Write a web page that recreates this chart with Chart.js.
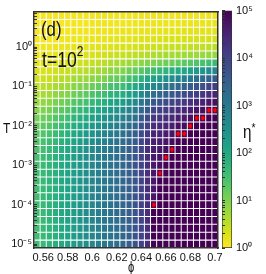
<!DOCTYPE html>
<html>
<head>
<meta charset="utf-8">
<script src="https://cdn.jsdelivr.net/npm/chart.js@4"></script>
<style>
	body { margin: 0; background: #fff; }
	#wrap { position: relative; width: 266px; height: 274px; overflow: hidden; }
	canvas { position: absolute; top: 0; }
	.lbl { position: absolute; line-height: 1; color: #111; white-space: nowrap;
		font-family: "Liberation Sans", Arial, sans-serif; transform-origin: 0 0; transform: scaleX(0.8); }
</style>
</head>
<body>
<div id="wrap">
	<canvas id="heat" width="266" height="274" style="left:0"></canvas>
	<canvas id="bar" width="48" height="274" style="left:218px"></canvas>
	<span class="lbl" style="left:41px;top:18px;font-size:21px">(d)</span>
	<span class="lbl" style="left:42px;top:49px;font-size:22px">t=10<span style="font-size:15px;position:relative;top:-11px">2</span></span>
	<span class="lbl" style="left:3px;top:120px;font-size:15px">T</span>
	<span class="lbl" style="left:128px;top:260px;font-size:14px">ϕ</span>
	<span class="lbl" style="left:243px;top:122px;font-size:19px">η<span style="font-size:13px;position:relative;top:-6px">*</span></span>
</div>
<script>
// packing fraction (columns) and log10 T (rows, top to bottom)
const phi = [0.555, 0.56, 0.565, 0.57, 0.575, 0.58, 0.585, 0.59, 0.595, 0.6,
	0.605, 0.61, 0.615, 0.62, 0.625, 0.63, 0.635, 0.64, 0.645, 0.65,
	0.655, 0.66, 0.665, 0.67, 0.675, 0.68, 0.685, 0.69, 0.695, 0.7];
const logT = [0.8, 0.6, 0.4, 0.2, 0, -0.2, -0.4, -0.6, -0.8, -1,
	-1.2, -1.4, -1.6, -1.8, -2, -2.2, -2.4, -2.6, -2.8, -3,
	-3.2, -3.4, -3.6, -3.8, -4, -4.2, -4.4, -4.6, -4.8, -5];

// log10(eta*), one array per phi column, rows top -> bottom
const logEta = [
	[0.05,0.05,0.06,0.08,0.11,0.15,0.21,0.29,0.38,0.5, 0.63,0.78,0.92,1.06,1.19,1.3,1.38,1.44,1.49,1.52, 1.53,1.55,1.55,1.55,1.55,1.55,1.55,1.55,1.55,1.55],
	[0.05,0.05,0.06,0.09,0.11,0.16,0.22,0.3,0.4,0.53, 0.67,0.83,0.98,1.13,1.26,1.37,1.47,1.53,1.58,1.62, 1.63,1.65,1.65,1.65,1.65,1.65,1.65,1.65,1.65,1.65],
	[0.05,0.05,0.06,0.09,0.12,0.16,0.23,0.32,0.42,0.56, 0.71,0.87,1.04,1.2,1.34,1.46,1.56,1.63,1.68,1.72, 1.73,1.75,1.75,1.75,1.75,1.75,1.75,1.75,1.75,1.75],
	[0.05,0.06,0.07,0.1,0.14,0.2,0.27,0.37,0.5,0.66, 0.84,1.01,1.19,1.35,1.48,1.59,1.68,1.75,1.79,1.82, 1.84,1.85,1.85,1.85,1.85,1.85,1.85,1.85,1.85,1.85],
	[0.05,0.06,0.08,0.11,0.15,0.21,0.29,0.4,0.54,0.7, 0.89,1.08,1.27,1.45,1.58,1.7,1.8,1.87,1.92,1.95, 1.97,1.98,1.98,1.98,1.98,1.98,1.98,1.98,1.98,1.98],
	[0.05,0.06,0.08,0.12,0.16,0.22,0.3,0.42,0.57,0.75, 0.95,1.15,1.35,1.55,1.7,1.82,1.93,2.0,2.06,2.09, 2.11,2.12,2.12,2.12,2.12,2.12,2.12,2.12,2.12,2.12],
	[0.07,0.07,0.1,0.13,0.19,0.27,0.37,0.5,0.69,0.9, 1.12,1.34,1.56,1.75,1.89,2.02,2.11,2.18,2.22,2.25, 2.27,2.27,2.27,2.27,2.27,2.27,2.27,2.27,2.27,2.27],
	[0.07,0.07,0.1,0.14,0.2,0.28,0.38,0.53,0.73,0.95, 1.19,1.42,1.65,1.86,2.02,2.15,2.25,2.32,2.37,2.4, 2.42,2.42,2.42,2.42,2.42,2.42,2.42,2.42,2.42,2.42],
	[0.08,0.08,0.11,0.15,0.21,0.29,0.4,0.55,0.76,0.99, 1.25,1.5,1.75,1.96,2.14,2.29,2.39,2.47,2.52,2.54, 2.57,2.57,2.57,2.57,2.57,2.57,2.57,2.57,2.57,2.57],
	[0.08,0.1,0.12,0.16,0.23,0.33,0.46,0.65,0.88,1.14, 1.41,1.69,1.94,2.16,2.34,2.48,2.57,2.64,2.68,2.71, 2.72,2.72,2.72,2.72,2.72,2.72,2.72,2.72,2.72,2.72],
	[0.09,0.1,0.13,0.17,0.24,0.34,0.49,0.69,0.93,1.2, 1.49,1.77,2.04,2.27,2.46,2.6,2.7,2.77,2.82,2.85, 2.86,2.86,2.86,2.86,2.86,2.86,2.86,2.86,2.86,2.86],
	[0.09,0.1,0.13,0.18,0.25,0.36,0.51,0.72,0.97,1.25, 1.55,1.85,2.13,2.37,2.56,2.71,2.82,2.89,2.94,2.97, 2.98,2.98,2.98,2.98,2.98,2.98,2.98,2.98,2.98,2.98],
	[0.09,0.11,0.15,0.2,0.28,0.4,0.62,0.87,1.15,1.46, 1.77,2.08,2.36,2.57,2.76,2.88,2.98,3.04,3.07,3.1, 3.1,3.1,3.1,3.1,3.1,3.1,3.1,3.1,3.1,3.1],
	[0.09,0.12,0.15,0.21,0.3,0.42,0.65,0.9,1.2,1.52, 1.84,2.16,2.45,2.68,2.87,3.0,3.1,3.17,3.2,3.23, 3.23,3.23,3.23,3.23,3.23,3.23,3.23,3.23,3.23,3.23],
	[0.09,0.12,0.16,0.22,0.31,0.44,0.67,0.94,1.25,1.58, 1.92,2.26,2.56,2.8,3.0,3.13,3.24,3.3,3.34,3.37, 3.37,3.37,3.37,3.37,3.37,3.37,3.37,3.37,3.37,3.37],
	[0.09,0.12,0.16,0.22,0.32,0.47,0.75,1.1,1.48,1.83, 2.18,2.52,2.8,3.03,3.2,3.33,3.41,3.47,3.5,3.52, 3.52,3.52,3.52,3.52,3.52,3.52,3.52,3.52,3.52,3.52],
	[0.1,0.12,0.17,0.23,0.34,0.5,0.8,1.18,1.58,1.98, 2.31,2.66,2.96,3.2,3.39,3.52,3.61,3.66,3.7,3.72, 3.72,3.72,3.72,3.72,3.72,3.72,3.72,3.72,3.72,3.72],
	[0.1,0.13,0.17,0.25,0.36,0.54,0.87,1.3,1.78,2.25, 2.68,3.04,3.32,3.56,3.72,3.84,3.92,3.96,4.0,4.0, 4.0,4.0,4.0,4.0,4.0,4.0,4.0,4.0,4.0,4.0],
	[0.1,0.13,0.18,0.26,0.38,0.58,0.95,1.45,2.0,2.5, 2.95,3.33,3.62,3.87,4.05,4.18,4.26,4.31,4.33,4.35, 4.35,4.35,4.35,4.35,4.35,4.35,4.35,4.35,4.35,4.35],
	[0.1,0.13,0.19,0.28,0.4,0.62,1.0,1.55,2.15,2.7, 3.2,3.6,3.95,4.2,4.38,4.5,4.58,4.63,4.66,4.68, 4.7,4.7,4.7,4.7,5,5,5,5,5,5],
	[0.1,0.14,0.2,0.29,0.42,0.65,1.05,1.65,2.3,2.85, 3.35,3.75,4.05,4.25,4.4,4.5,4.6,4.68,4.75,4.82, 5,5,5,5,5,5,5,5,5,5],
	[0.1,0.14,0.2,0.3,0.43,0.67,1.1,1.75,2.45,3.0, 3.5,3.88,4.15,4.35,4.5,4.62,4.72,4.82,5,5, 5,5,5,5,5,5,5,5,5,5],
	[0.1,0.14,0.21,0.3,0.44,0.68,1.15,1.85,2.6,3.15, 3.62,3.98,4.25,4.45,4.6,4.72,4.84,5,5,5, 5,5,5,5,5,5,5,5,5,5],
	[0.1,0.15,0.21,0.31,0.45,0.7,1.2,1.95,2.75,3.3, 3.75,4.1,4.38,4.6,4.8,5,5,5,5,5, 5,5,5,5,5,5,5,5,5,5],
	[0.1,0.15,0.22,0.31,0.46,0.72,1.25,2.05,2.85,3.42, 3.85,4.18,4.45,4.65,4.82,5,5,5,5,5, 5,5,5,5,5,5,5,5,5,5],
	[0.1,0.15,0.22,0.32,0.47,0.74,1.3,2.15,2.98,3.55, 3.97,4.3,4.58,4.8,5,5,5,5,5,5, 5,5,5,5,5,5,5,5,5,5],
	[0.1,0.15,0.23,0.33,0.48,0.76,1.38,2.3,3.15,3.7, 4.1,4.45,4.75,5,5,5,5,5,5,5, 5,5,5,5,5,5,5,5,5,5],
	[0.1,0.16,0.23,0.33,0.49,0.78,1.45,2.42,3.28,3.82, 4.2,4.52,4.8,5,5,5,5,5,5,5, 5,5,5,5,5,5,5,5,5,5],
	[0.1,0.16,0.24,0.34,0.5,0.8,1.55,2.6,3.45,3.98, 4.35,4.7,5,5,5,5,5,5,5,5, 5,5,5,5,5,5,5,5,5,5],
	[0.1,0.16,0.24,0.35,0.52,0.82,1.65,2.75,3.6,4.12, 4.48,4.78,5,5,5,5,5,5,5,5, 5,5,5,5,5,5,5,5,5,5]
];

// red markers
const dotPhi = [0.695, 0.7, 0.685, 0.69, 0.68, 0.67, 0.675, 0.665, 0.66, 0.655, 0.65];
const dotLogT = [-1.6, -1.6, -1.8, -1.8, -2, -2.2, -2.2, -2.6, -2.8, -3.2, -4];

// ticks
const xTicks = [0.56, 0.58, 0.6, 0.62, 0.64, 0.66, 0.68, 0.7];
const xTickLabels = ["0.56", "0.58", "0.6", "0.62", "0.64", "0.66", "0.68", "0.7"];
const yTicks = [-5, -4, -3, -2, -1, 0];
const yTickLabels = ["10⁻⁵", "10⁻⁴", "10⁻³", "10⁻²", "10⁻¹", "10⁰"];
const cbTicks = [0, 1, 2, 3, 4, 5];
const cbTickLabels = ["10⁰", "10¹", "10²", "10³", "10⁴", "10⁵"];

const FONT = "'Liberation Sans', Arial, sans-serif";
const INK = "#333";
const viridisStops = ["#440154", "#48186a", "#472d7b", "#424086", "#3b528b", "#33638d", "#2c728e",
	"#26828e", "#21918c", "#1fa088", "#28ae80", "#3fbc73", "#5ec962", "#84d44b", "#addc30", "#d8e219", "#fde725"];

function hexRgb(h) {
	return [1, 3, 5].map((i) => parseInt(h.substr(i, 2), 16));
}
function viridis(t) {
	t = Math.min(1, Math.max(0, t)) * (viridisStops.length - 1);
	const i = Math.min(Math.floor(t), viridisStops.length - 2);
	const f = t - i;
	const a = hexRgb(viridisStops[i]), b = hexRgb(viridisStops[i + 1]);
	const c = a.map((v, k) => Math.round(v + (b[k] - v) * f));
	return `rgb(${c[0]},${c[1]},${c[2]})`;
}
// eta* colour: 10^0 yellow ... 10^5 dark purple
const etaColor = (v) => viridis(1 - v / 5);

// minor log ticks k*10^n
function logTicks(lo, hi) {
	const t = [];
	for (let n = Math.floor(lo); n <= Math.ceil(hi); n++)
		for (let k = 1; k < 10; k++) {
			const v = Math.log10(k) + n;
			if (v >= lo - 1e-9 && v <= hi + 1e-9) t.push({ value: Math.pow(10, v) });
		}
	return t;
}
function powLabel(v, exps, labels) {
	const i = exps.findIndex((e) => Math.abs(Math.log10(v) - e) < 1e-6);
	return i >= 0 ? labels[i] : "";
}

const halfRow = 0.1 - 0.013; // leaves a thin white line between rows
const yMin = Math.pow(10, -5.1), yMax = Math.pow(10, 0.9);

const cellSets = phi.map((p, c) => ({
	type: "bar",
	data: logT.map((lt) => ({ x: p, y: [Math.pow(10, lt - halfRow), Math.pow(10, lt + halfRow)] })),
	backgroundColor: logEta[c].map(etaColor),
	borderWidth: 0,
	barPercentage: 0.84,
	categoryPercentage: 1,
	grouped: false,
	order: 2,
}));

const dotImg = document.createElement("canvas");
dotImg.width = 4;
dotImg.height = 6;
{
	const g = dotImg.getContext("2d");
	g.fillStyle = "#ff0000";
	g.beginPath();
	g.ellipse(2, 3, 1.8, 2.6, 0, 0, Math.PI * 2);
	g.fill();
}

const dotSet = {
	type: "scatter",
	data: dotPhi.map((p, i) => ({ x: p, y: Math.pow(10, dotLogT[i]) })),
	pointStyle: dotImg,
	pointRadius: 3,
	order: 0,
};

const frame = { display: true, color: INK, width: 1.5, z: 1 };

new Chart(document.getElementById("heat"), {
	type: "bar",
	data: { datasets: [...cellSets, dotSet] },
	options: {
		responsive: false,
		animation: false,
		devicePixelRatio: 1,
		layout: { padding: { left: 0, top: 8, right: 48, bottom: 0 } },
		plugins: { legend: { display: false }, tooltip: { enabled: false } },
		scales: {
			x: {
				type: "linear", min: 0.5525, max: 0.7025, offset: false,
				grid: { display: false, drawTicks: false, offset: false },
				border: frame,
				ticks: {
					padding: 3, color: "#111", font: { family: FONT, size: 11 },
					maxRotation: 0, minRotation: 0, autoSkip: false,
					callback: (v) => xTickLabels[xTicks.findIndex((t) => Math.abs(t - v) < 1e-9)] ?? "",
				},
				afterBuildTicks: (s) => { s.ticks = xTicks.map((v) => ({ value: v })); },
				afterFit: (s) => { s.height = 26; },
			},
			y: {
				type: "logarithmic", min: yMin, max: yMax,
				grid: { display: true, drawOnChartArea: false, drawTicks: true, tickLength: -3, tickColor: INK, z: 1 },
				border: frame,
				ticks: {
					autoSkip: false, padding: 5, color: "#111", font: { family: FONT, size: 11 },
					callback: (v) => powLabel(v, yTicks, yTickLabels),
				},
				afterBuildTicks: (s) => { s.ticks = logTicks(-5.1, 0.9); },
				afterFit: (s) => { s.width = 34; },
			},
			xTop: {
				type: "linear", position: "top", min: 0.5525, max: 0.7025,
				grid: { display: false, drawTicks: false }, ticks: { display: false }, border: frame,
				afterFit: (s) => { s.height = 0; },
			},
			yRight: {
				type: "logarithmic", position: "right", min: yMin, max: yMax,
				grid: { display: false, drawTicks: false }, ticks: { display: false }, border: frame,
				afterFit: (s) => { s.width = 0; },
			},
		},
	},
});

// colour bar
new Chart(document.getElementById("bar"), {
	type: "bar",
	data: {
		labels: ["η*"],
		datasets: [{
			data: [[1, 1e5]],
			backgroundColor: (ctx) => {
				const a = ctx.chart.chartArea;
				if (!a) return "#21918c";
				const g = ctx.chart.ctx.createLinearGradient(0, a.bottom, 0, a.top);
				viridisStops.forEach((col, i) => g.addColorStop(i / (viridisStops.length - 1), viridisStops[viridisStops.length - 1 - i]));
				return g;
			},
			borderColor: INK,
			borderWidth: 1,
			borderSkipped: false,
			barPercentage: 1,
			categoryPercentage: 1,
		}],
	},
	options: {
		responsive: false,
		animation: false,
		devicePixelRatio: 1,
		layout: { padding: { left: 4, top: 9, right: 0, bottom: 26 } },
		plugins: { legend: { display: false }, tooltip: { enabled: false } },
		scales: {
			x: { display: false },
			y: {
				type: "logarithmic", position: "left", min: 1, max: 1e5,
				grid: { display: true, drawOnChartArea: false, drawTicks: true, tickLength: -3, tickColor: INK, z: 1 },
				border: { display: false },
				ticks: { display: false, autoSkip: false, callback: () => "" },
				afterBuildTicks: (s) => { s.ticks = logTicks(0, 5); },
				afterFit: (s) => { s.width = 0; },
			},
			yLab: {
				type: "logarithmic", position: "right", min: 1, max: 1e5,
				grid: { display: false, drawTicks: false },
				border: { display: false },
				ticks: {
					autoSkip: false, padding: 4, color: "#111", font: { family: FONT, size: 11 },
					callback: (v) => powLabel(v, cbTicks, cbTickLabels),
				},
				afterBuildTicks: (s) => { s.ticks = cbTicks.map((e) => ({ value: Math.pow(10, e) })); },
				afterFit: (s) => { s.width = 34; },
			},
		},
	},
});
</script>
</body>
</html>
